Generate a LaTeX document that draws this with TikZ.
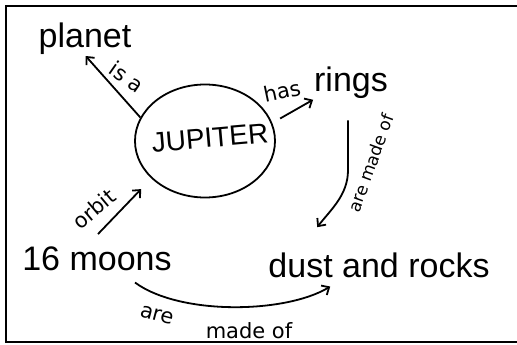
\documentclass[tikz,border=0pt]{standalone}
\usepackage{fontspec}
\setmainfont{Liberation Sans}
\newfontfamily\labelfont{DejaVu Sans}
\usetikzlibrary{shapes.geometric, arrows.meta}

\begin{document}
\begin{tikzpicture}[x=1pt, y=-1pt,
        concept/.style={font=\fontsize{34}{38}\selectfont, inner sep=0pt, anchor=base},
        linkword/.style={font=\labelfont\fontsize{21}{24}\selectfont, inner sep=0pt},
        arr/.style={line width=1.8pt, -{Straight Barb[length=6pt, width=11pt, line width=1.8pt]}}]

        \useasboundingbox (0,0) rectangle (517,345);

        % ---------------------------------------------------
        % 1. Frame
        % ---------------------------------------------------
        \draw[line width=2.2pt] (520,6) -- (6,6) -- (6,342) -- (520,342);

        % ---------------------------------------------------
        % 2. Concepts
        % ---------------------------------------------------

        % Centre: Jupiter in its ellipse
        \node[ellipse, draw, line width=1.8pt, minimum width=140pt, minimum height=113pt, inner sep=0pt] (jup) at (205,141) {};
        \node[font=\fontsize{28}{32}\selectfont, rotate=5] (jupname) at (210,138) {JUPITER};

        \node[concept] (planet) at (85,48) {planet};
        \node[concept] (rings) at (351,92) {rings};
        \node[concept] (moons) at (97,270) {16 moons};
        \node[concept] (dust) at (379,277) {dust and rocks};

        % ---------------------------------------------------
        % 3. Connectors
        % ---------------------------------------------------

        % Jupiter -> planet
        \draw[arr, shorten >=1pt] (jup.160) -- (planet.south);

        % Jupiter -> rings
        \draw[arr, shorten <=9pt, shorten >=1pt] (jup.15) -- (rings.south west);

        % rings -> dust and rocks (down, then bending left)
        \draw[arr] ([shift={(-3,21)}]rings.south) -- ++(0,50)
            .. controls +(0,25) and +(13,-17) .. ([shift={(49,-25)}]dust.north west);

        % 16 moons -> Jupiter
        \draw[arr] ([shift={(1,-12)}]moons.north) -- ([shift={(-12,9)}]jup.217);

        % 16 moons -> dust and rocks (long curve underneath)
        \draw[arr] ([shift={(38,12)}]moons.south)
            .. controls +(45,33) and +(-45,27) .. ([shift={(62,9)}]dust.south west);

        % ---------------------------------------------------
        % 4. Linking words
        % ---------------------------------------------------
        \node[linkword, rotate=-35] (isa) at (127,77) {is a};
        \node[linkword, rotate=12] (has) at (282,91) {has};
        \node[linkword, rotate=70, font=\labelfont\fontsize{17}{20}\selectfont] (madeof1) at (371,163) {are made of};
        \node[linkword, rotate=40] (orbit) at (94,209) {orbit};
        \node[linkword, rotate=-15] (are) at (157,315) {are};
        \node[linkword] (madeof2) at (249,331) {made of};

\end{tikzpicture}
\end{document}
